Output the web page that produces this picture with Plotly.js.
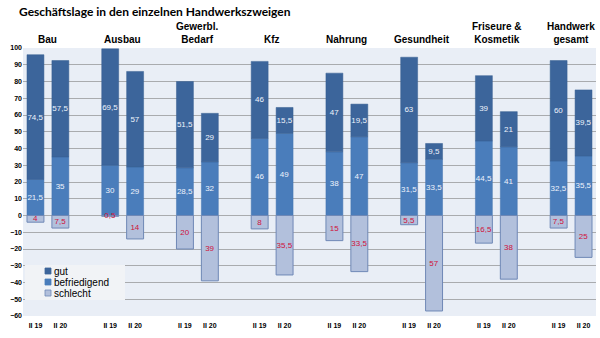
<!DOCTYPE html>
<html><head><meta charset="utf-8">
<script src="https://cdn.plot.ly/plotly-3.0.1.min.js"></script>
<style>html,body{margin:0;padding:0;background:#fff}#c{width:600px;height:338px}</style>
</head><body><div id="c"></div>
<script>
const groups = ["Bau","Ausbau","Gewerbl.<br>Bedarf","Kfz","Nahrung","Gesundheit","Friseure &<br>Kosmetik","Handwerk<br>gesamt"];
const periods = ["II 19","II 20"];
// values per group: [II 19, II 20]
const befriedigend = [[21.5,35],[30,29],[28.5,32],[46,49],[38,47],[31.5,33.5],[44.5,41],[32.5,35.5]];
const gut = [[74.5,57.5],[69.5,57],[51.5,29],[46,15.5],[47,19.5],[63,9.5],[39,21],[60,39.5]];
const schlecht = [[4,7.5],[0.5,14],[20,39],[8,35.5],[15,33.5],[5.5,57],[16.5,38],[7.5,25]];
const seriesNames = ["gut","befriedigend","schlecht"];
const seriesColors = {gut:'#3c659b', befriedigend:'#4a7dbb', schlecht:'#b2c0dc'};

const xs=[], tt=[], vB=[], vG=[], vS=[];
groups.forEach((g,i)=>{periods.forEach((p,j)=>{
  xs.push(i*3+j); tt.push(p);
  vB.push(befriedigend[i][j]); vG.push(gut[i][j]); vS.push(-schlecht[i][j]);
});});
const fmt = v => String(Math.abs(v)).replace('.', ',');
const common = {type:'bar', x:xs, width:0.68, textposition:'inside', insidetextanchor:'middle', textangle:0, cliponaxis:false, hoverinfo:'skip', showlegend:false};
const traces = [
  Object.assign({}, common, {name:'befriedigend', y:vB, text:vB.map(fmt),
    marker:{color:seriesColors.befriedigend, line:{color:'#4575b0', width:0.5}}, textfont:{color:'#eef3fb', size:8, family:'Liberation Sans'}}),
  Object.assign({}, common, {name:'gut', y:vG, text:vG.map(fmt),
    marker:{color:seriesColors.gut, line:{color:'#375e91', width:0.5}}, textfont:{color:'#eef3fb', size:8, family:'Liberation Sans'}}),
  Object.assign({}, common, {name:'schlecht', y:vS, text:vS.map(fmt),
    marker:{color:seriesColors.schlecht, line:{color:'#6f88b6', width:1}}, textfont:{color:'#d0103a', size:8, family:'Liberation Sans'}})
];
const ann = [{text:'Geschäftslage in den einzelnen Handwerkszweigen', xref:'paper', yref:'paper', x:-0.01, y:1.135, xanchor:'left', yanchor:'middle', showarrow:false,
  font:{family:'Lato', size:12, weight:'bold', color:'#000'}}];
groups.forEach((g,i)=>ann.push({text:g, xref:'x', yref:'paper', x:i*3+0.5, y:1, yanchor:'bottom', yshift:1, showarrow:false,
  font:{family:'Liberation Sans', size:10, weight:'bold', color:'#000'}}));
// custom compact legend (plot area: 573 x 268 px)
const PW=573, PH=268;
const shapes = [{type:'rect', xref:'paper', yref:'paper', x0:2/PW, x1:102/PW, y0:16/PH, y1:51/PH, fillcolor:'#f1f3f6', line:{width:0}, layer:'above'}];
seriesNames.forEach((n,k)=>{
  const cy = (45 - k*11)/PH;
  shapes.push({type:'rect', xref:'paper', yref:'paper', x0:22/PW, x1:28/PW, y0:cy-3/PH, y1:cy+3/PH,
    fillcolor:seriesColors[n], line:{color: n==='schlecht' ? '#6f88b6' : seriesColors[n], width:0.8}, layer:'above'});
  ann.push({text:n, xref:'paper', yref:'paper', x:29/PW, y:cy, xanchor:'left', yanchor:'middle', showarrow:false,
    font:{family:'Liberation Sans', size:10, color:'#000'}});
});
const layout = {
  width:600, height:338, margin:{l:23, r:4, t:48, b:22},
  paper_bgcolor:'#fff', plot_bgcolor:'#e9eef6',
  barmode:'relative', bargap:0,
  uniformtext:{mode:'show', minsize:8},
  showlegend:false,
  xaxis:{range:[-0.5,22.5], tickvals:xs, ticktext:tt, showgrid:false, zeroline:false, ticks:'', fixedrange:true,
    ticklabelstandoff:4,
    tickfont:{family:'Liberation Sans', size:7, weight:'bold', color:'#000'}},
  yaxis:{range:[-60,100], dtick:10, tick0:0, showgrid:true, gridcolor:'#a9abae', gridwidth:1, zeroline:false, ticks:'',
    tickfont:{family:'Liberation Sans', size:7, weight:'bold', color:'#000'}, showline:false},
  annotations:ann, shapes:shapes
};
Plotly.newPlot('c', traces, layout, {staticPlot:true});
</script></body></html>
